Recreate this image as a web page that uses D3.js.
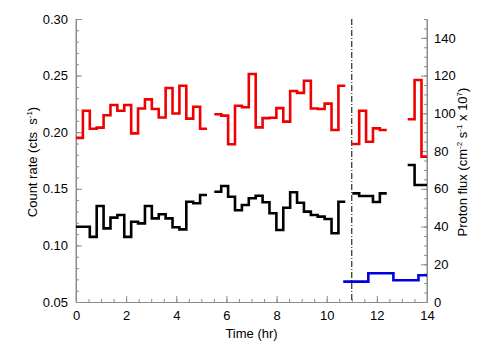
<!DOCTYPE html>
<html><head><meta charset="utf-8">
<script src="https://cdn.jsdelivr.net/npm/d3@7"></script>
<style>body{margin:0;background:#fff}svg{display:block}text{font-family:"Liberation Sans",Arial,sans-serif;fill:#000}</style>
</head><body><svg id="c" width="504" height="360"></svg>
<script>
// ---- data ----
const binWidth = 0.275;            // hr
const segStarts = [0, 5.517, 11.02, 13.23];
const redSegs = [
  [0.195,0.219,0.203,0.204,0.215,0.224,0.219,0.224,0.199,0.221,0.229,0.2205,0.213,0.239,0.2165,0.241,0.212,0.2225,0.203],
  [0.2158,0.2146,0.1893,0.2234,0.222,0.2514,0.2043,0.2124,0.2128,0.2213,0.2093,0.2364,0.2347,0.2454,0.221,0.2205,0.2252,0.2019,0.241],
  [0.1896,0.219,0.1916,0.2034,0.2019],
  [0.2114,0.2461,0.1784]
];
const blackSegs = [
  [0.1165,0.1165,0.1075,0.1348,0.1150,0.1245,0.1269,0.1075,0.1209,0.1195,0.1348,0.1239,0.1275,0.1239,0.1160,0.1142,0.1386,0.1372,0.1445],
  [0.1474,0.1525,0.1430,0.1310,0.1357,0.1416,0.1439,0.1381,0.1284,0.1136,0.1333,0.1469,0.1377,0.1298,0.1269,0.1254,0.1233,0.1107,0.1386],
  [0.146,0.1437,0.1437,0.1384,0.146],
  [0.171,0.1534,0.1534]
];
const blueStart = 10.66, blueWidth = 1.0;
const blueFlux = [10.8, 15.2, 11.5, 14.2];
const markerTime = 11.0;
const xTicks = [0,2,4,6,8,10,12,14];
const yLeftTicks = [0.05,0.10,0.15,0.20,0.25,0.30];
const yRightTicks = [0,20,40,60,80,100,120,140];

// ---- layout ----
const svg = d3.select("#c");
const L = 76, R = 427, T = 19, B = 302;
const x = d3.scaleLinear().domain([0,14]).range([L,R]);
const yL = d3.scaleLinear().domain([0.05,0.30]).range([B,T]);
const yR = d3.scaleLinear().domain([0,150]).range([B,T]);

svg.append("rect").attr("width",504).attr("height",360).attr("fill","#fff");
svg.append("defs").append("clipPath").attr("id","clip")
  .append("rect").attr("x",L).attr("y",T-5).attr("width",R-L).attr("height",B-T+5);

const axisColor = "#8c8c8c";
function axis(gen, tr) {
  const g = svg.append("g").attr("transform", tr).call(gen);
  g.selectAll("path.domain").attr("stroke", axisColor);
  g.selectAll(".tick line").attr("stroke", axisColor);
  g.selectAll("text").attr("font-size", 13).attr("fill","#000").style("font-family",'"Liberation Sans",Arial,sans-serif');
  return g;
}
// minor ticks
function minor(axisGen, scale, vals, tr) {
  const g = svg.append("g").attr("transform", tr)
    .call(axisGen(scale).tickValues(vals).tickFormat("").tickSizeOuter(0));
  g.selectAll("path.domain").remove();
  g.selectAll(".tick line").attr("stroke", axisColor);
}
minor(s=>d3.axisBottom(s).tickSizeInner(-3), x, d3.range(0,14.01,0.5), `translate(0,${B})`);
minor(s=>d3.axisLeft(s).tickSizeInner(-3), yL, d3.range(0.05,0.3001,0.01), `translate(${L},0)`);
minor(s=>d3.axisRight(s).tickSizeInner(-3), yR, d3.range(0,150.1,5), `translate(${R},0)`);

axis(d3.axisBottom(x).tickValues(xTicks).tickSizeInner(-6).tickSizeOuter(0).tickPadding(9).tickFormat(d3.format("d")), `translate(0,${B})`);
axis(d3.axisLeft(yL).tickValues(yLeftTicks).tickSizeInner(-6).tickSizeOuter(0).tickPadding(8).tickFormat(d3.format(".2f")), `translate(${L},0)`);
axis(d3.axisRight(yR).tickValues(yRightTicks).tickSizeInner(-6).tickSizeOuter(0).tickPadding(7).tickFormat(d3.format("d")), `translate(${R},0)`);
// extend right axis to top
svg.append("line").attr("x1",R).attr("x2",R).attr("y1",T).attr("y2",B).attr("stroke",axisColor);
svg.append("line").attr("x1",L).attr("x2",L).attr("y1",T).attr("y2",B).attr("stroke",axisColor);

// ---- series ----
const plot = svg.append("g").attr("clip-path","url(#clip)");
const stepLine = (ys) => d3.line().x(d=>x(d[0])).y(d=>ys(d[1])).curve(d3.curveStepAfter);
function segPoints(start, vals, w) {
  const pts = vals.map((v,i)=>[start+i*w, v]);
  pts.push([start+vals.length*w, vals[vals.length-1]]);
  return pts;
}
redSegs.forEach((s,i)=>plot.append("path").attr("d", stepLine(yL)(segPoints(segStarts[i], s, binWidth)))
  .attr("fill","none").attr("stroke","#f00000").attr("stroke-width",2.6));
blackSegs.forEach((s,i)=>plot.append("path").attr("d", stepLine(yL)(segPoints(segStarts[i], s, binWidth)))
  .attr("fill","none").attr("stroke","#000").attr("stroke-width",2.6));
plot.append("path").attr("d", stepLine(yR)(segPoints(blueStart, blueFlux, blueWidth)))
  .attr("fill","none").attr("stroke","#0000e0").attr("stroke-width",2.6);

svg.append("line").attr("x1",x(markerTime)).attr("x2",x(markerTime)).attr("y1",T).attr("y2",B)
  .attr("stroke","#000").attr("stroke-width",1).attr("stroke-dasharray","6,2,1,2");

// ---- titles ----
svg.append("text").attr("x",(L+R)/2).attr("y",338).attr("text-anchor","middle").attr("font-size",13).text("Time (hr)");
const lt = svg.append("text").attr("transform","translate(37,162) rotate(-90)").attr("text-anchor","middle").attr("font-size",13);
lt.append("tspan").text("Count rate (cts\u00a0\u00a0s");
lt.append("tspan").attr("font-size",8).attr("dy",-5).text("-1");
lt.append("tspan").attr("dy",5).text(")");
const rt = svg.append("text").attr("transform","translate(467,162) rotate(-90)").attr("text-anchor","middle").attr("font-size",13);
rt.append("tspan").text("Proton flux (cm");
rt.append("tspan").attr("font-size",8).attr("dy",-5).text("-2");
rt.append("tspan").attr("dy",5).text(" s");
rt.append("tspan").attr("font-size",8).attr("dy",-5).text("-1");
rt.append("tspan").attr("dy",5).text(" x 10");
rt.append("tspan").attr("font-size",8).attr("dy",-5).text("7");
rt.append("tspan").attr("dy",5).text(")");
</script></body></html>
